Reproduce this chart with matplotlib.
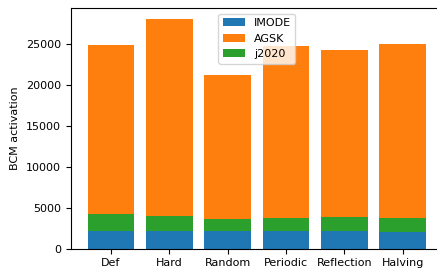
import matplotlib
matplotlib.use('Agg')
import matplotlib.pyplot as plt
import numpy as np

labels = ['Def', 'Hard', 'Random', 'Periodic', 'Reflection', 'Halving']
imode = np.array([2140, 2150, 2120, 2140, 2130, 2100])
j2020_top = np.array([4300, 3970, 3600, 3800, 3920, 3760])
total = np.array([24930, 28060, 21250, 24800, 24350, 25080])

j2020 = j2020_top - imode
agsk = total - j2020_top

plt.rcParams['font.size'] = 8
fig = plt.figure(figsize=(4.37, 2.71), dpi=100)
ax = fig.add_axes([70.7/437, 1-248.7/271, (443-70.7)/437, (248.7-8)/271])
x = np.arange(len(labels))
ax.bar(x, imode, label='IMODE')
ax.bar(x, agsk, bottom=imode + j2020, label='AGSK')
ax.bar(x, j2020, bottom=imode, label='j2020')
ax.set_xticks(x)
ax.set_xticklabels(labels)
ax.set_ylabel('BCM activation')
ax.legend(loc='upper center')
fig.savefig('out.png', dpi=100)
